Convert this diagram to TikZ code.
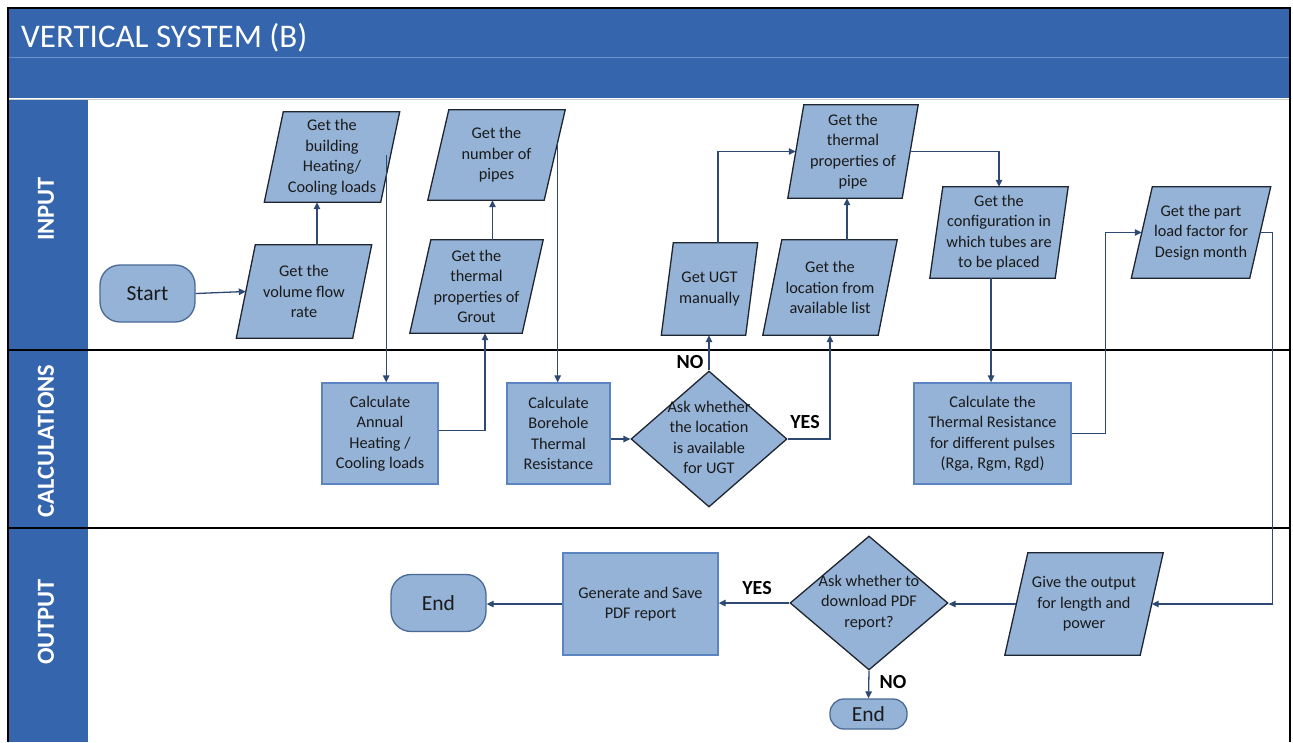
\documentclass[tikz,border=0pt]{standalone}
\usepackage{fontspec}
\setmainfont{Carlito}
\usetikzlibrary{shapes.geometric,arrows.meta,calc}
\pgfdeclarelayer{pagebg}
\pgfdeclarelayer{background}
\pgfsetlayers{pagebg,background,main}

\definecolor{hdr}{HTML}{3465AD}
\definecolor{hdrline}{HTML}{6E90C8}
\definecolor{nodefill}{HTML}{95B3D7}
\definecolor{conn}{HTML}{2E4A72}
\definecolor{rectedge}{HTML}{5B84C0}
\definecolor{darkedge}{HTML}{1E2430}
\definecolor{termedge}{HTML}{4A6A95}
\definecolor{txt}{HTML}{1A1A1A}

\newcommand\myNodeFont{\fontsize{16.3}{20.5}\selectfont}
\newcommand\myTermFont{\fontsize{21.5}{24}\selectfont}
\newcommand\myDiaText[1]{\smash{\makebox[0pt]{\raisebox{-4pt}{\begin{tabular}{@{}c@{}}#1\end{tabular}}}}}
\newcommand\myPara[2]{%
  \begin{pgfonlayer}{background}
  \filldraw[fill=nodefill,draw=darkedge,line width=1.3pt,line join=miter]
    ([xshift=-#2pt]#1.south west) -- ([xshift=#2pt]#1.north west) --
    ([xshift=#2pt]#1.north east) -- ([xshift=-#2pt]#1.south east) -- cycle;
  \end{pgfonlayer}}

\begin{document}
\begin{tikzpicture}[x=1pt,y=-1pt,
  para/.style={inner sep=0pt, align=center, font=\myNodeFont, text=txt},
  rectbox/.style={draw=rectedge, fill=nodefill, line width=1.3pt, inner sep=0pt,
    align=center, font=\myNodeFont, text=txt},
  dia/.style={diamond, draw=darkedge, fill=nodefill, line width=1.3pt, inner sep=0pt,
    font=\myNodeFont, text=txt},
  term/.style={draw=termedge, fill=nodefill, line width=1.3pt, inner sep=0pt,
    font=\myTermFont, text=txt},
  lanelbl/.style={text=white, font=\fontsize{24.5}{28}\selectfont\bfseries, rotate=90},
  lbl/.style={text=black, font=\fontsize{20}{22}\selectfont\bfseries, inner sep=0pt},
  arr/.style={draw=conn, line width=1.3pt, -{Triangle[length=7pt,width=6.5pt]}}
]
\useasboundingbox (0,0) rectangle (1293,742);
\begin{pgfonlayer}{pagebg}
\fill[white] (0,0) rectangle (1293,742);
% header bands
\fill[hdr] (9,9) rectangle (1290,98);
\draw[hdrline, line width=1.2pt] (9,57.5) -- (1290,57.5);
\draw[black!20, line width=1pt] (9,99.5) -- (1290,99.5);
% left column
\fill[hdr] (9,100) rectangle (88,742);
% lane separators
\draw[black, line width=1.6pt] (9,350) -- (1290,350);
\draw[black, line width=1.6pt] (9,528) -- (1290,528);
% frame
\draw[black, line width=2.5pt] (8,742) -- (8,8) -- (1290,8) -- (1290,742);
\end{pgfonlayer}

% title and lane labels
\node[anchor=base west, text=white, inner sep=0pt, font=\fontsize{33}{36}\selectfont] (title) at (21,47) {VERTICAL SYSTEM (B)};
\node[lanelbl] (linput) at (46,209) {INPUT};
\node[lanelbl] (lcalc) at (46,441) {CALCULATIONS};
\node[lanelbl] (lout) at (46,622) {OUTPUT};

% terminals
\node[term, rounded corners=20pt, minimum width=95pt, minimum height=57pt] (start) at (147.5,293.5) {Start};
\node[term, rounded corners=20pt, minimum width=95pt, minimum height=57pt] (end1) at (438.5,603) {End};
\node[term, rounded corners=14pt, minimum width=77pt, minimum height=30pt] (end2) at (868.5,714) {End};

% parallelograms (input / output data)
\node[para, minimum width=116pt, minimum height=93pt] (vol) at (304,291.5) {Get the\\volume flow\\rate};
\myPara{vol}{9.5}
\node[para, minimum width=116pt, minimum height=90pt] (bld) at (332,157) {Get the\\building\\Heating/\\Cooling loads};
\myPara{bld}{9.5}
\node[para, minimum width=116pt, minimum height=90pt] (pipes) at (496.5,155) {Get the\\number of\\pipes};
\myPara{pipes}{10.5}
\node[para, minimum width=112pt, minimum height=93pt] (grout) at (476.5,286.5) {Get the\\thermal\\properties of\\Grout};
\myPara{grout}{10.5}
\node[para, minimum width=84pt, minimum height=92pt] (ugt) at (709.5,289) {Get UGT\\manually};
\myPara{ugt}{6}
\node[para, minimum width=115pt, minimum height=95pt] (loc) at (830,287.5) {Get the\\location from\\available list};
\myPara{loc}{9.5}
\node[para, minimum width=114pt, minimum height=93pt] (pipe) at (853,151.5) {Get the\\thermal\\properties of\\pipe};
\myPara{pipe}{8}
\node[para, minimum width=125pt, minimum height=91pt] (config) at (999,232.5) {Get the\\configuration in\\which tubes are\\to be placed};
\myPara{config}{6.5}
\node[para, minimum width=118pt, minimum height=91pt] (load) at (1201,232.5) {Get the part\\load factor for\\Design month};
\myPara{load}{10.5}
\node[para, minimum width=135pt, minimum height=102pt] (output) at (1084,604) {Give the output\\for length and\\power};
\myPara{output}{11.5}

% process boxes
\node[rectbox, minimum width=116pt, minimum height=101pt] (calcA) at (380,433.5) {Calculate\\Annual\\Heating /\\Cooling loads};
\node[rectbox, minimum width=103pt, minimum height=101pt] (bore) at (558.5,433.5) {Calculate\\Borehole\\Thermal\\Resistance};
\node[rectbox, minimum width=157pt, minimum height=101pt] (thermal) at (992.5,433.5) {Calculate the\\Thermal Resistance\\for different pulses\\(Rga, Rgm, Rgd)};
\node[rectbox, minimum width=155pt, minimum height=102pt] (gen) at (640.5,604) {Generate and Save\\PDF report};

% decisions
\node[dia, minimum width=156pt, minimum height=136pt] (d1) at (709,439) {\myDiaText{Ask whether\\the location\\is available\\for UGT}};
\node[dia, minimum width=158pt, minimum height=134pt] (d2) at (869,603) {\myDiaText{Ask whether to\\download PDF\\report?}};

% labels
\node[lbl] (no1) at (690,362) {NO};
\node[lbl] (yes1) at (805,422) {YES};
\node[lbl] (yes2) at (757,588) {YES};
\node[lbl] (no2) at (893,682) {NO};

% connectors
\draw[arr] (start.east) -- (vol.west);
\draw[arr] ([xshift=13pt]vol.north) -- ([xshift=13pt]vol.north |- bld.south);
\draw[arr] ([xshift=-4pt,yshift=2pt]bld.east) -- ([xshift=-4pt]bld.east |- calcA.north);
\draw[arr] ([yshift=3pt]calcA.east) -| ([xshift=8.5pt]grout.south);
\draw[arr] ([xshift=16pt]grout.north) -- ([xshift=16pt]grout.north |- pipes.south);
\draw[arr] ([xshift=3pt,yshift=12pt]pipes.east) -- ([xshift=3pt]pipes.east |- bore.north);
\draw[arr] (bore.east |- d1.west) -- (d1.west);
\draw[arr] (d1.north) -- (d1.north |- ugt.south);
\draw[arr] (d1.east) -| (loc.south);
\draw[arr] ([xshift=8.5pt]ugt.north) |- (pipe.west);
\draw[arr] ([xshift=17pt]loc.north) -- ([xshift=17pt]loc.north |- pipe.south);
\draw[arr] (pipe.east) -| (config.north);
\draw[arr] ([xshift=-8pt]config.south) -- ([xshift=-8pt]config.south |- thermal.north);
\draw[arr] (thermal.east) -- ++(34,0) |- (load.west);
\draw[arr] (load.east) -- ++(12,0) |- (output.east);
\draw[arr] (output.west) -- (output.west -| d2.east);
\draw[arr] (d2.west) -- (d2.west -| gen.east);
\draw[arr] (gen.west) -- (gen.west -| end1.east);
\draw[arr] (d2.south) -- (end2.north);
\end{tikzpicture}
\end{document}
